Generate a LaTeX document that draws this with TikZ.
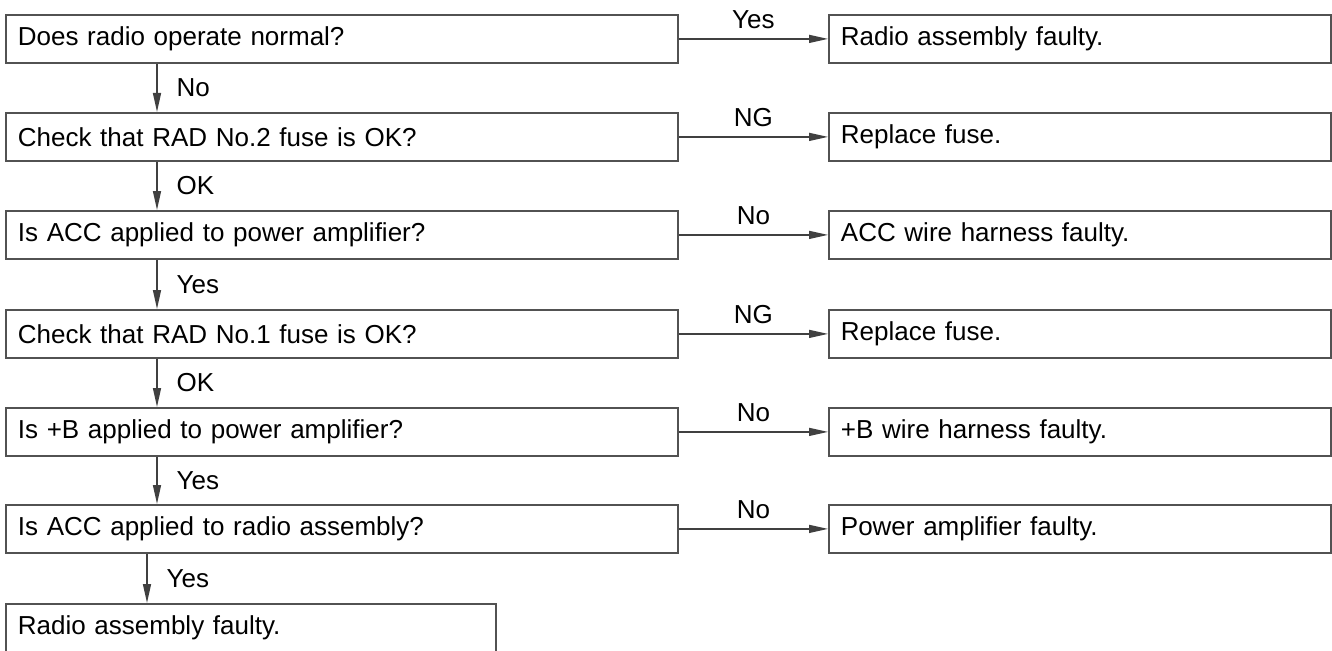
\documentclass[tikz,border=0pt]{standalone}
\usepackage{fontspec}
\setmainfont{Liberation Sans}
\usetikzlibrary{arrows.meta}
\begin{document}
\begin{tikzpicture}[x=1pt,y=-1pt,
  box/.style={draw=black!68,line width=1.8pt,rectangle,anchor=north west,
    minimum height=48pt,inner xsep=12pt,inner ysep=0pt,align=left,
    font=\fontsize{26}{30}\selectfont},
  conn/.style={draw=black!75,line width=1.4pt,-{Triangle[length=19pt,width=8pt]}},
  lbl/.style={font=\fontsize{26}{30}\selectfont,inner sep=0pt}
]
\useasboundingbox (0,0) rectangle (1332,650);
\def\lw{648}
\def\rw{478}
\node[box,text width=\lw pt] (q1) at (5,14) {Does radio operate normal?};
\node[box,text width=\lw pt] (q2) at (5,112) {Check that RAD No.2 fuse is OK?};
\node[box,text width=\lw pt] (q3) at (5,210) {Is ACC applied to power amplifier?};
\node[box,text width=\lw pt] (q4) at (5,309) {Check that RAD No.1 fuse is OK?};
\node[box,text width=\lw pt] (q5) at (5,407) {Is +B applied to power amplifier?};
\node[box,text width=\lw pt] (q6) at (5,504) {Is ACC applied to radio assembly?};
\node[box,text width=466pt] (q7) at (5,603) {Radio assembly faulty.};

\node[box,text width=\rw pt] (r1) at (828,14) {Radio assembly faulty.};
\node[box,text width=\rw pt] (r2) at (828,112) {Replace fuse.};
\node[box,text width=\rw pt] (r3) at (828,210) {ACC wire harness faulty.};
\node[box,text width=\rw pt] (r4) at (828,309) {Replace fuse.};
\node[box,text width=\rw pt] (r5) at (828,407) {+B wire harness faulty.};
\node[box,text width=\rw pt] (r6) at (828,504) {Power amplifier faulty.};

\foreach \a/\b/\t in {q1/r1/Yes,q2/r2/NG,q3/r3/No,q4/r4/NG,q5/r5/No,q6/r6/No}{
  \draw[conn] (\a.east) -- (\b.west) node[lbl,midway,above=9pt] {\t};
}
\foreach \a/\b/\t in {q1/q2/No,q2/q3/OK,q3/q4/Yes,q4/q5/OK,q5/q6/Yes}{
  \draw[conn] ([xshift=152pt]\a.south west) -- ([xshift=152pt]\b.north west)
    node[lbl,midway,anchor=west,xshift=19pt] {\t};
}
\draw[conn] ([xshift=142pt]q6.south west) -- ([xshift=142pt]q7.north west)
    node[lbl,midway,anchor=west,xshift=19pt] {Yes};
\end{tikzpicture}
\end{document}
